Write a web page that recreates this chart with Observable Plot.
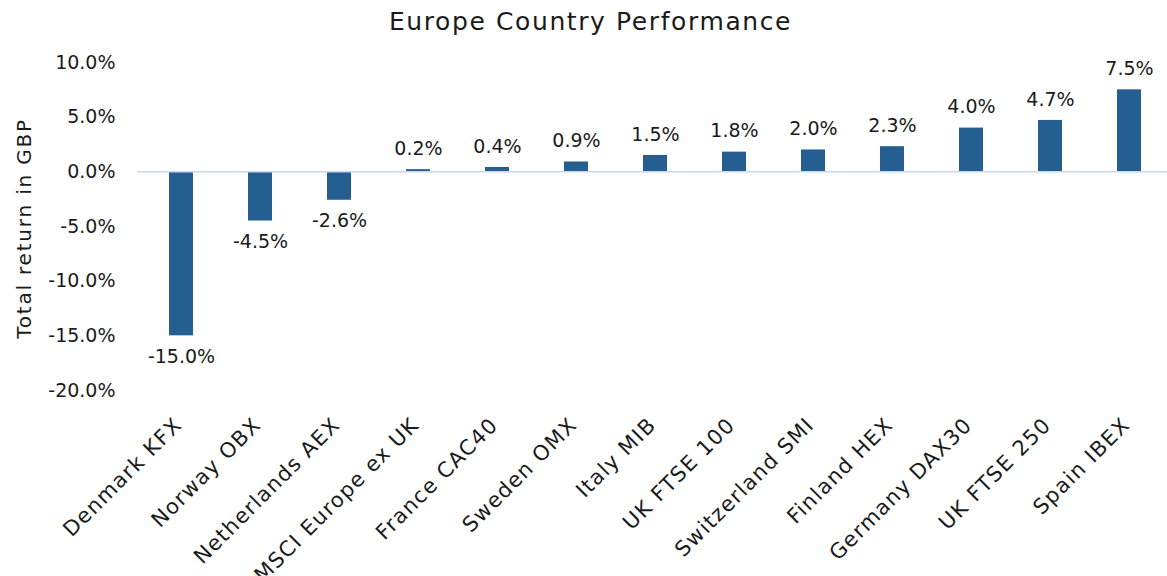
<!DOCTYPE html>
<html>
<head>
<meta charset="utf-8">
<script src="https://cdn.jsdelivr.net/npm/d3@7"></script>
<script src="https://cdn.jsdelivr.net/npm/@observablehq/plot@0.6"></script>
<style>
  body { margin: 0; background: #fff; font-family: "DejaVu Sans", sans-serif; }
  #title { height: 44px; line-height: 44px; text-align: center; font-size: 25px; letter-spacing: 1.6px; color: #1a1a1a; padding-left: 14px; }
  svg { display: block; }
</style>
</head>
<body>
<div id="title">Europe Country Performance</div>
<div id="chart"></div>
<script>
const categories = ["Denmark KFX", "Norway OBX", "Netherlands AEX", "MSCI Europe ex UK", "France CAC40", "Sweden OMX", "Italy MIB", "UK FTSE 100", "Switzerland SMI", "Finland HEX", "Germany DAX30", "UK FTSE 250", "Spain IBEX"];
const values = [-15.0, -4.5, -2.6, 0.2, 0.4, 0.9, 1.5, 1.8, 2.0, 2.3, 4.0, 4.7, 7.5];
const yTicks = [-20, -15, -10, -5, 0, 5, 10];
const yLabel = "Total return in GBP";

const data = categories.map((c, i) => ({category: c, value: values[i]}));
const fmt = d => d.toFixed(1) + "%";
const font = "DejaVu Sans, sans-serif";

const chart = Plot.plot({
  width: 1167,
  height: 532,
  marginTop: 18,
  marginBottom: 186,
  marginLeft: 137,
  marginRight: 0,
  style: {fontFamily: font, fontSize: "19px", color: "#1a1a1a", background: "#fff"},
  x: {domain: categories, range: [137, 1173], paddingInner: 0.69, paddingOuter: 0.345, align: 0.5},
  y: {domain: [-20, 10]},
  marks: [
    Plot.barY(data, {x: "category", y: "value", fill: "#255E91"}),
    Plot.ruleY([0], {stroke: "#CCD6EE", strokeWidth: 1.5}),
    Plot.text(data.filter(d => d.value >= 0), {x: "category", y: "value", text: d => fmt(d.value),
      dy: -21, fontSize: 19, fill: "#1a1a1a", lineAnchor: "middle"}),
    Plot.text(data.filter(d => d.value < 0), {x: "category", y: "value", text: d => fmt(d.value),
      dy: 21, fontSize: 19, fill: "#1a1a1a", lineAnchor: "middle"}),
    Plot.axisY({ticks: yTicks, tickFormat: fmt, tickSize: 0, tickPadding: 22, label: null, fontSize: 19}),
    Plot.axisX({tickRotate: -45, tickSize: 0, tickPadding: 31, dx: -3, label: null, fontSize: 21, textAnchor: "end"}),
    Plot.text([yLabel], {frameAnchor: "left", textAnchor: "middle", dx: -113, dy: 2, rotate: -90,
      fontSize: 20, fill: "#1a1a1a"})
  ]
});
d3.select(chart).selectAll("text").filter(function() { return this.textContent === yLabel; }).style("letter-spacing", "1.8px");
d3.select(chart).selectAll("[aria-label='x-axis tick label'] text").style("letter-spacing", "1.3px");
document.getElementById("chart").append(chart);
</script>
</body>
</html>
